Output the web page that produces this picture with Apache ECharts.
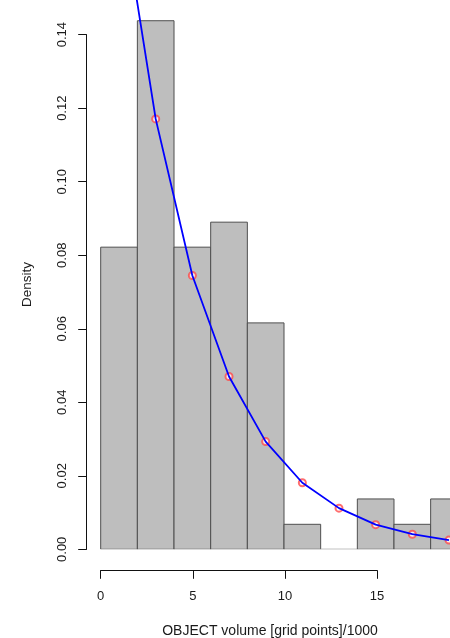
<!DOCTYPE html>
<html>
<head>
<meta charset="utf-8">
<script src="https://cdn.jsdelivr.net/npm/echarts@6/dist/echarts.min.js"></script>
<style>
html,body{margin:0;padding:0;background:#fff;}
#c{width:450px;height:638px;}
</style>
</head>
<body>
<div id="c"></div>
<script>
// Histogram bins (OBJECT volume / 1000) and densities
const binStart = [0, 2, 4, 6, 8, 10, 12, 14, 16, 18];
const binEnd   = [2, 4, 6, 8, 10, 12, 14, 16, 18, 20];
const density  = [0.0822, 0.1438, 0.0822, 0.0890, 0.0616, 0.0068, 0.0000, 0.0137, 0.0068, 0.0137];
// Fitted density evaluated at bin mids
const mids     = [1, 3, 5, 7, 9, 11, 13, 15, 17, 19];
const fitDens  = [0.180, 0.1171, 0.0745, 0.0470, 0.0293, 0.0181, 0.0112, 0.0067, 0.0041, 0.0025];
// Axis ticks
const xTicks = [0, 5, 10, 15];
const yTicks = [0.00, 0.02, 0.04, 0.06, 0.08, 0.10, 0.12, 0.14];

const FONT = 'Liberation Sans, Arial, Helvetica, sans-serif';
const TXT = '#1a1a1a';

const chart = echarts.init(document.getElementById('c'), null, {renderer: 'canvas'});

const histData = binStart.map((s, i) => [s, binEnd[i], density[i]]);
const fitData = mids.map((m, i) => [m, fitDens[i]]);

const option = {
  backgroundColor: '#fff',
  animation: false,
  grid: [
    {left: 100.7, top: 0, width: 351, height: 549.3},
    {left: 100.7, top: 34.7, width: 276.3, height: 514.6}
  ],
  xAxis: [
    {gridIndex: 0, type: 'value', min: 0, max: 351 / 18.42, show: false},
    {
      gridIndex: 1, type: 'value', min: xTicks[0], max: xTicks[xTicks.length - 1], interval: 5,
      position: 'bottom', offset: 21,
      axisLine: {show: true, onZero: false, lineStyle: {color: '#111', width: 1}},
      axisTick: {show: true, inside: false, length: 8.5, lineStyle: {color: '#111', width: 1}},
      axisLabel: {show: true, margin: 19.5, color: TXT, fontSize: 13, fontFamily: FONT,
        formatter: v => String(v)},
      splitLine: {show: false}
    }
  ],
  yAxis: [
    {gridIndex: 0, type: 'value', min: 0, max: 549.3 / 3675.7, show: false},
    {
      gridIndex: 1, type: 'value', min: yTicks[0], max: yTicks[yTicks.length - 1], interval: 0.02,
      position: 'left', offset: 14,
      axisLine: {show: true, onZero: false, lineStyle: {color: '#111', width: 1}},
      axisTick: {show: true, inside: false, length: 8.5, lineStyle: {color: '#111', width: 1}},
      axisLabel: {show: true, margin: 18, rotate: 90, color: TXT, fontSize: 13, fontFamily: FONT,
        formatter: v => v.toFixed(2)},
      splitLine: {show: false}
    }
  ],
  graphic: [
    {type: 'text', x: 27, y: 284.5, rotation: Math.PI / 2,
      style: {text: 'Density', fill: TXT, font: '13.5px ' + FONT, textAlign: 'center', textVerticalAlign: 'middle'}},
    {type: 'text', x: 270, y: 631,
      style: {text: 'OBJECT volume [grid points]/1000', fill: TXT, font: '14px ' + FONT, textAlign: 'center', textVerticalAlign: 'middle'}}
  ],
  series: [
    {
      type: 'custom', xAxisIndex: 0, yAxisIndex: 0, clip: true,
      data: histData,
      renderItem: function (params, api) {
        const p0 = api.coord([api.value(0), api.value(2)]);
        const p1 = api.coord([api.value(1), 0]);
        const empty = api.value(2) === 0;
        return {
          type: 'rect',
          shape: {x: p0[0], y: p0[1], width: p1[0] - p0[0], height: p1[1] - p0[1]},
          style: {fill: '#bebebe', stroke: empty ? '#a8a8a8' : '#4f4f4f', lineWidth: 1}
        };
      },
      z: 1
    },
    {
      type: 'line', xAxisIndex: 0, yAxisIndex: 0, clip: true,
      data: fitData, showSymbol: false, symbol: 'none', smooth: false,
      lineStyle: {color: '#0000ff', width: 1.8},
      z: 3
    },
    {
      type: 'scatter', xAxisIndex: 0, yAxisIndex: 0, clip: true,
      data: fitData, symbol: 'emptyCircle', symbolSize: 7,
      itemStyle: {color: '#ff4a4a', borderColor: '#ff4a4a', borderWidth: 1},
      z: 2
    }
  ]
};
chart.setOption(option);
</script>
</body>
</html>
